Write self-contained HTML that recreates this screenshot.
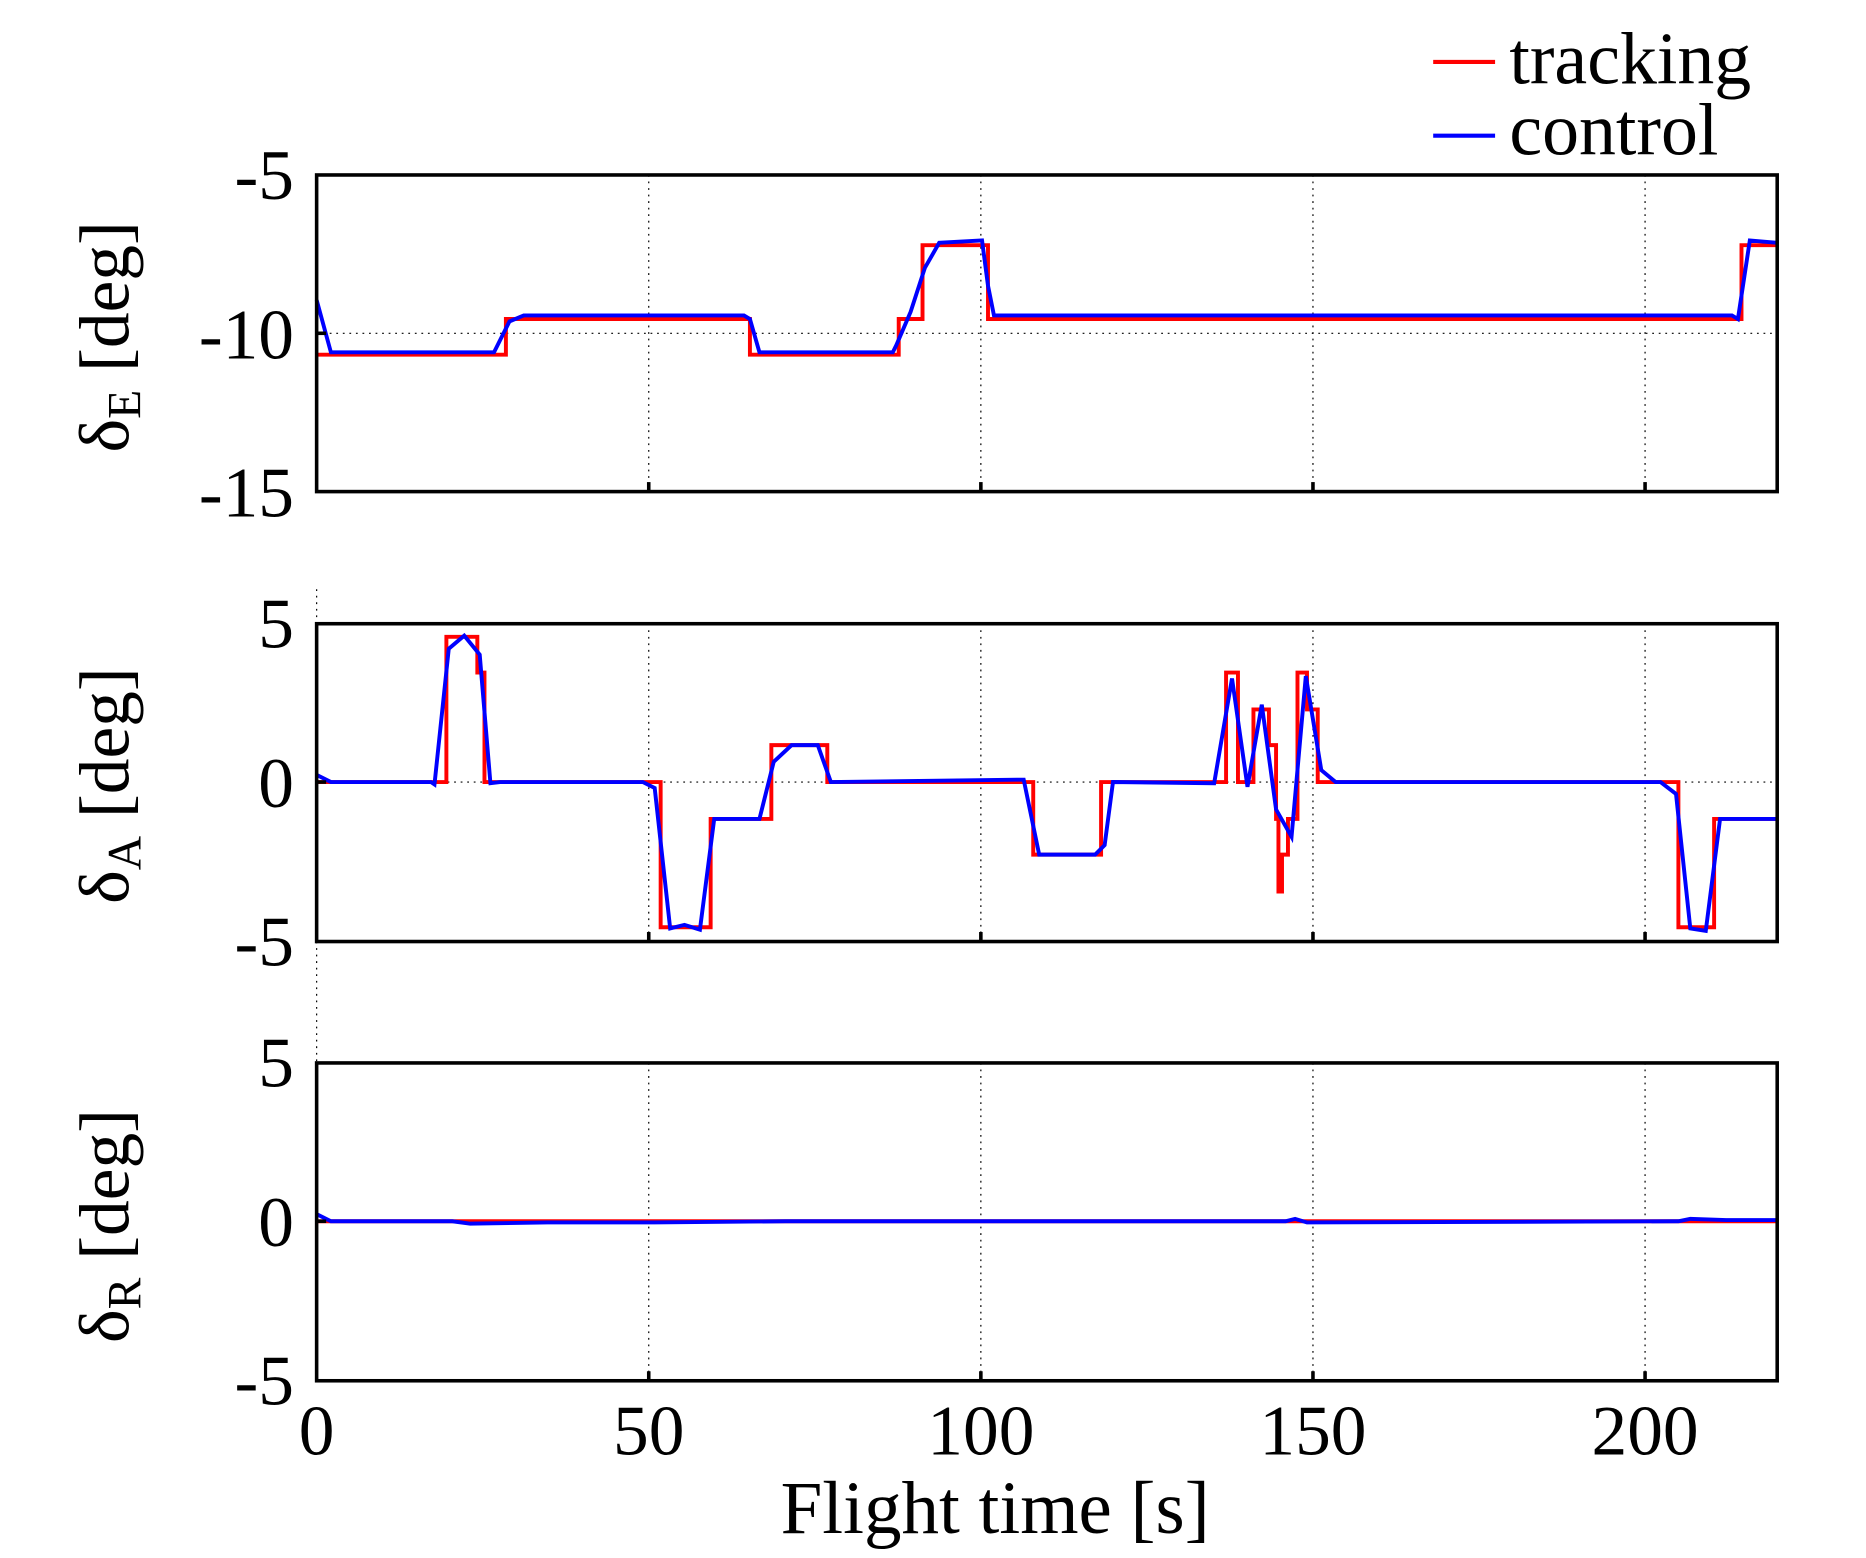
<!DOCTYPE html>
<html><head><meta charset="utf-8"><style>html,body{margin:0;padding:0;background:#fff}svg{display:block}</style></head>
<body>
<svg width="1866" height="1558" viewBox="0 0 1567.6 1308.9" preserveAspectRatio="none" xmlns="http://www.w3.org/2000/svg" font-family="Liberation Serif, serif">
<rect width="1567.6" height="1308.9" fill="#fff"/>
<g stroke="#000" stroke-width="1" stroke-dasharray="1.5,4" fill="none">
<line x1="545" y1="147" x2="545" y2="413"/><line x1="824" y1="147" x2="824" y2="413"/><line x1="1103" y1="147" x2="1103" y2="413"/><line x1="1382" y1="147" x2="1382" y2="413"/>
<line x1="266" y1="280" x2="1493" y2="280"/>
<line x1="545" y1="524" x2="545" y2="791"/><line x1="824" y1="524" x2="824" y2="791"/><line x1="1103" y1="524" x2="1103" y2="791"/><line x1="1382" y1="524" x2="1382" y2="791"/>
<line x1="266" y1="657" x2="1493" y2="657"/>
<line x1="266" y1="495" x2="266" y2="524"/><line x1="266" y1="791" x2="266" y2="893"/>
<line x1="545" y1="893" x2="545" y2="1160"/><line x1="824" y1="893" x2="824" y2="1160"/><line x1="1103" y1="893" x2="1103" y2="1160"/><line x1="1382" y1="893" x2="1382" y2="1160"/>
<line x1="266" y1="1026" x2="1493" y2="1026"/>
</g>
<g fill="none" stroke-width="3.3" stroke-linejoin="miter">
<polyline stroke="#f00" points="266,298 425,298 425,268 630,268 630,298 755,298 755,268 775,268 775,206 830,206 830,268 1463,268 1463,206 1493,206"/>
<polyline stroke="#00f" points="266,252 278,296 415,296 428,270 440,265 625,265 630,268 638,296 750,296 753,290 765,262 777,225 789,204 825,202 830,240 835,265 1455,265 1460,268 1470,202 1493,204"/>
<polyline stroke="#f00" points="266,657 375,657 375,535 401,535 401,565 407,565 407,657 555,657 555,779 597,779 597,688 648,688 648,626 695,626 695,657 868,657 868,718 925,718 925,657 1030,657 1030,565 1040,565 1040,657 1053,657 1053,596 1066,596 1066,626 1072,626 1072,688 1074,688 1074,749 1077,749 1077,718 1082,718 1082,688 1090,688 1090,565 1098,565 1098,596 1107,596 1107,657 1410,657 1410,779 1440,779 1440,688 1493,688"/>
<polyline stroke="#00f" points="266,651 278,657 362,657 365,659 377,545 390,534 403,550 412,658 420,657 540,657 550,662 563,780 575,777 588,781 600,688 638,688 650,640 665,626 687,626 698,657 855,655 860,655 873,718 920,718 928,710 935,657 1020,658 1035,570 1048,661 1060,592 1072,680 1085,703 1097,568 1110,647 1122,657 1395,657 1408,667 1420,780 1433,782 1445,688 1493,688"/>
<polyline stroke="#f00" points="266,1026 1493,1026"/>
<polyline stroke="#00f" points="266,1020 278,1026 380,1026 395,1028 460,1027 550,1027 660,1026 1080,1026 1088,1024 1098,1027 1410,1026 1420,1024 1450,1025 1493,1025"/>
</g>
<g fill="none" stroke="#000" stroke-width="3">
<rect x="266" y="147" width="1227" height="266"/>
<rect x="266" y="524" width="1227" height="267"/>
<rect x="266" y="893" width="1227" height="267"/>
</g>
<g stroke="#000" stroke-width="3">
<line x1="545" y1="413" x2="545" y2="405"/><line x1="824" y1="413" x2="824" y2="405"/><line x1="1103" y1="413" x2="1103" y2="405"/><line x1="1382" y1="413" x2="1382" y2="405"/>
<line x1="545" y1="791" x2="545" y2="783"/><line x1="824" y1="791" x2="824" y2="783"/><line x1="1103" y1="791" x2="1103" y2="783"/><line x1="1382" y1="791" x2="1382" y2="783"/>
<line x1="545" y1="1160" x2="545" y2="1152"/><line x1="824" y1="1160" x2="824" y2="1152"/><line x1="1103" y1="1160" x2="1103" y2="1152"/><line x1="1382" y1="1160" x2="1382" y2="1152"/>
<line x1="266" y1="280" x2="274" y2="280"/><line x1="266" y1="657" x2="274" y2="657"/><line x1="266" y1="1026" x2="274" y2="1026"/>
</g>
<g font-size="60" fill="#000" text-anchor="end">
<text x="247" y="167">-5</text><text x="247" y="301">-10</text><text x="247" y="434">-15</text>
<text x="247" y="544">5</text><text x="247" y="678">0</text><text x="247" y="811">-5</text>
<text x="247" y="913">5</text><text x="247" y="1047">0</text><text x="247" y="1180">-5</text>
</g>
<g font-size="60" fill="#000" text-anchor="middle">
<text x="266" y="1222">0</text><text x="545" y="1222">50</text><text x="824" y="1222">100</text><text x="1103" y="1222">150</text><text x="1382" y="1222">200</text>
</g>
<text x="836" y="1288" font-size="63" text-anchor="middle">Flight time [s]</text>
<g font-size="60" fill="#000" text-anchor="middle">
<text transform="translate(108,283) rotate(-90)">δ<tspan font-size="40" dy="10">E</tspan><tspan dy="-10"> [deg]</tspan></text>
<text transform="translate(108,660) rotate(-90)">δ<tspan font-size="40" dy="10">A</tspan><tspan dy="-10"> [deg]</tspan></text>
<text transform="translate(108,1030) rotate(-90)">δ<tspan font-size="40" dy="10">R</tspan><tspan dy="-10"> [deg]</tspan></text>
</g>
<line x1="1204" y1="52" x2="1256" y2="52" stroke="#f00" stroke-width="3.5"/>
<line x1="1204" y1="114" x2="1256" y2="114" stroke="#00f" stroke-width="3.5"/>
<text x="1268" y="70" font-size="62">tracking</text>
<text x="1268" y="130" font-size="62">control</text>
</svg>
</body></html>
